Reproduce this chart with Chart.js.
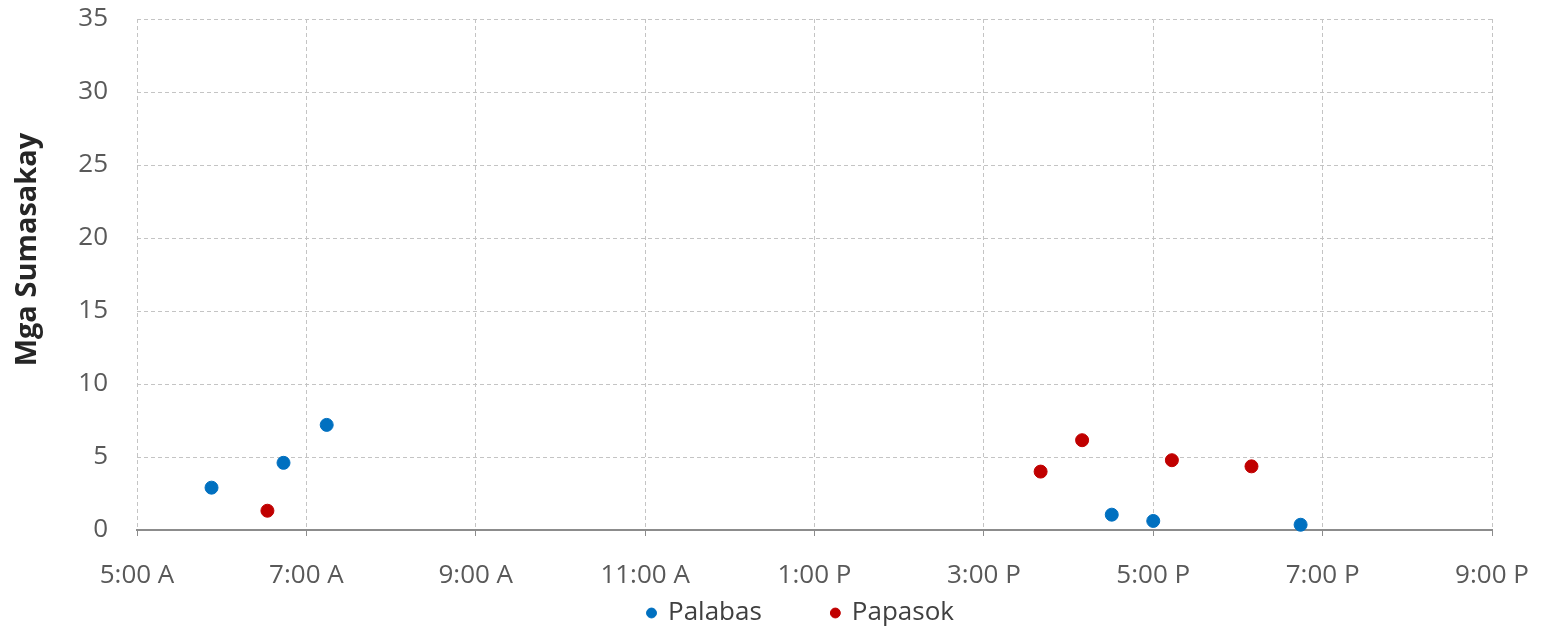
<!DOCTYPE html>
<html>
<head>
<meta charset="utf-8">
<script src="https://cdn.jsdelivr.net/npm/chart.js@4"></script>
<style>
  html, body { margin: 0; padding: 0; background: #fff; }
</style>
</head>
<body>
<canvas id="scatterChart" width="1548" height="634"></canvas>
<script>
// oras (decimal hours) at mga sumasakay
const palabasHours = [5.88, 6.73, 7.24, 16.51, 17.0, 18.74];
const palabasRiders = [2.9, 4.6, 7.2, 1.05, 0.62, 0.36];
const papasokHours = [6.54, 15.67, 16.16, 17.22, 18.16];
const papasokRiders = [1.32, 4.0, 6.15, 4.78, 4.36];
const hourTicks = [5, 7, 9, 11, 13, 15, 17, 19, 21];
const riderTicks = [0, 5, 10, 15, 20, 25, 30, 35];

function toPoints(xs, ys) {
  return xs.map(function (x, i) {
    return { x: x, y: ys[i] };
  });
}

function hourLabel(h) {
  const suffix = h < 12 ? "A" : "P";
  let hh = h % 12;
  if (hh === 0) hh = 12;
  return hh + ":00 " + suffix;
}

const fontFamily = "'Open Sans', 'Noto Sans', sans-serif";
const gridColor = "#c4c4c4";
const dash = [4, 3];

// nudges boxes after layout: x labels get room below the axis,
// the y title sits a bit higher, legend moves right like the original
const layoutTweaks = {
  id: "layoutTweaks",
  afterLayout: function (chart) {
    const x = chart.scales.x;
    x.bottom = chart.legend.top + 70;
    x.height = x.bottom - x.top;

    const y = chart.scales.y;
    y.bottom = y.top + 461;
    y.height = y.bottom - y.top;

    chart.legend.left += 52;
    chart.legend.right += 52;
  },
};

const config = {
  type: "scatter",
  data: {
    datasets: [
      {
        label: "Palabas",
        data: toPoints(palabasHours, palabasRiders),
        backgroundColor: "#0070C0",
        borderColor: "#0070C0",
        pointRadius: 6.5,
        pointHoverRadius: 6.5,
        clip: false,
      },
      {
        label: "Papasok",
        data: toPoints(papasokHours, papasokRiders),
        backgroundColor: "#C00000",
        borderColor: "#C00000",
        pointRadius: 6.5,
        pointHoverRadius: 6.5,
        clip: false,
      },
    ],
  },
  options: {
    responsive: false,
    animation: false,
    layout: { padding: { left: 6, right: 56, top: 19, bottom: -2 } },
    plugins: {
      tooltip: { enabled: false },
      legend: {
        position: "bottom",
        labels: {
          usePointStyle: true,
          pointStyle: "circle",
          boxWidth: 7,
          boxHeight: 7,
          padding: 70,
          color: "#404040",
          font: { family: fontFamily, size: 26 },
        },
      },
    },
    scales: {
      x: {
        type: "linear",
        min: 5,
        max: 21,
        afterBuildTicks: function (scale) {
          scale.ticks = hourTicks.map(function (v) { return { value: v }; });
        },
        afterFit: function (scale) {
          scale.height = 0;
          scale.paddingLeft = 0;
          scale.paddingRight = 0;
        },
        ticks: {
          color: "#595959",
          font: { family: fontFamily, size: 26 },
          padding: 24,
          maxRotation: 0,
          autoSkip: false,
          callback: function (v) { return hourLabel(v); },
        },
        grid: {
          color: gridColor,
          lineWidth: 1,
          tickLength: 6,
          tickColor: "#8c8c8c",
          tickBorderDash: [],
        },
        border: { display: true, color: "#8c8c8c", width: 2, dash: dash },
      },
      y: {
        min: 0,
        max: 35,
        afterBuildTicks: function (scale) {
          scale.ticks = riderTicks.map(function (v) { return { value: v }; });
        },
        afterFit: function (scale) {
          scale.width = 131;
          scale.paddingTop = 0;
          scale.paddingBottom = 0;
        },
        title: {
          display: true,
          text: "Mga Sumasakay",
          color: "#262626",
          font: { family: fontFamily, size: 29, weight: "bold" },
          padding: { top: 4, bottom: 0 },
        },
        ticks: {
          color: "#595959",
          font: { family: fontFamily, size: 26 },
          padding: 0,
        },
        grid: {
          color: gridColor,
          lineWidth: 1,
          drawTicks: true,
          tickLength: 29,
          tickColor: "rgba(0,0,0,0)",
        },
        border: { display: false, dash: dash },
      },
    },
  },
  plugins: [layoutTweaks],
};

const scatterChart = new Chart(document.getElementById("scatterChart"), config);
</script>
</body>
</html>
